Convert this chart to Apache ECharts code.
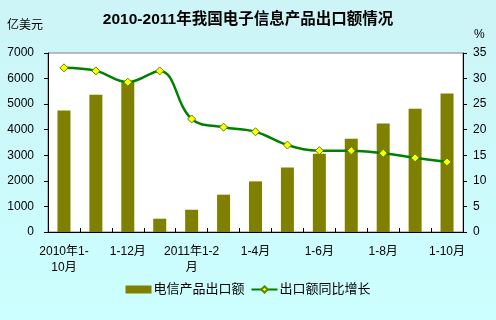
<!DOCTYPE html>
<html><head><meta charset="utf-8">
<script src="https://cdn.jsdelivr.net/npm/echarts@6/dist/echarts.min.js"></script>
<style>html,body{margin:0;padding:0;}#c{width:496px;height:320px;}</style>
</head><body><div id="c"></div>
<script>
var categories = ['2010年1-10月','1-11月','1-12月','2011年1月','2011年1-2月','1-3月','1-4月','1-5月','1-6月','1-7月','1-8月','1-9月','1-10月'];
var xTickLabels = ['2010年1-\n10月','','1-12月','','2011年1-2\n月','','1-4月','','1-6月','','1-8月','','1-10月'];
var exportValues = [4750, 5370, 5890, 520, 870, 1460, 1980, 2520, 3060, 3650, 4240, 4820, 5420];
var growthRates = [32.1, 31.5, 29.3, 31.5, 22.1, 20.5, 19.6, 17.0, 15.9, 15.9, 15.4, 14.5, 13.7];
var leftTicks = [0, 1000, 2000, 3000, 4000, 5000, 6000, 7000];
var rightTicks = [0, 5, 10, 15, 20, 25, 30, 35];

var font = '"Liberation Sans", "Noto Sans CJK SC", sans-serif';
var chart = echarts.init(document.getElementById('c'), null, {renderer: 'canvas'});
chart.setOption({
  animation: false,
  backgroundColor: new echarts.graphic.LinearGradient(0, 0, 0, 1, [
    {offset: 0, color: '#cdf4f7'}, {offset: 1, color: '#ccffff'}
  ]),
  textStyle: {fontFamily: font},
  title: {
    text: '2010-2011年我国电子信息产品出口额情况',
    left: 'center', top: 7,
    textStyle: {fontSize: 15.5, fontWeight: 'bold', color: '#000', fontFamily: font}
  },
  graphic: [
    {type: 'text', left: 7, top: 20, style: {text: '亿美元', fontSize: 12, fill: '#000', fontFamily: font}},
    {type: 'text', left: 474, top: 29, style: {text: '%', fontSize: 12, fill: '#000', fontFamily: font}}
  ],
  grid: {left: 48, right: 33, top: 53, bottom: 88, show: true, backgroundColor: '#fff', borderColor: '#808080', borderWidth: 1},
  legend: {
    bottom: 19, left: 'center', itemGap: 6, itemWidth: 26, itemHeight: 8,
    textStyle: {fontSize: 13, color: '#000', fontFamily: font, padding: [0, 0, 0, -3]},
    data: [
      {name: '电信产品出口额', icon: 'rect'},
      {name: '出口额同比增长'}
    ]
  },
  xAxis: {
    type: 'category', data: categories, boundaryGap: true,
    axisLine: {lineStyle: {color: '#000'}},
    axisTick: {show: true, inside: true, length: 4, interval: 0, lineStyle: {color: '#000'}},
    axisLabel: {
      interval: 0, margin: 12, fontSize: 12, color: '#000', lineHeight: 16, fontFamily: font,
      formatter: function (v, i) { return xTickLabels[i]; }
    },
    splitLine: {show: false}
  },
  yAxis: [
    {
      type: 'value', min: leftTicks[0], max: leftTicks[leftTicks.length - 1], interval: 1000,
      axisLine: {show: true, lineStyle: {color: '#000'}},
      axisTick: {show: true, length: 4, lineStyle: {color: '#000'}},
      axisLabel: {fontSize: 12, color: '#000', margin: 14, fontFamily: font,
        formatter: function (v) { return String(v); }},
      splitLine: {show: false}
    },
    {
      type: 'value', min: rightTicks[0], max: rightTicks[rightTicks.length - 1], interval: 5,
      axisLine: {show: true, lineStyle: {color: '#000'}},
      axisTick: {show: true, length: 4, lineStyle: {color: '#000'}},
      axisLabel: {fontSize: 12, color: '#000', margin: 10, fontFamily: font,
        formatter: function (v) { return String(v); }},
      splitLine: {show: false}
    }
  ],
  series: [
    {
      name: '电信产品出口额', type: 'bar', data: exportValues, barWidth: 13,
      itemStyle: {color: '#808000'}
    },
    {
      name: '出口额同比增长', type: 'line', yAxisIndex: 1, data: growthRates, smooth: 0.4,
      symbol: 'diamond', symbolSize: 8,
      lineStyle: {color: '#008000', width: 2.5},
      itemStyle: {color: '#ffff00', borderColor: '#558800', borderWidth: 1}
    }
  ]
});
</script></body></html>
